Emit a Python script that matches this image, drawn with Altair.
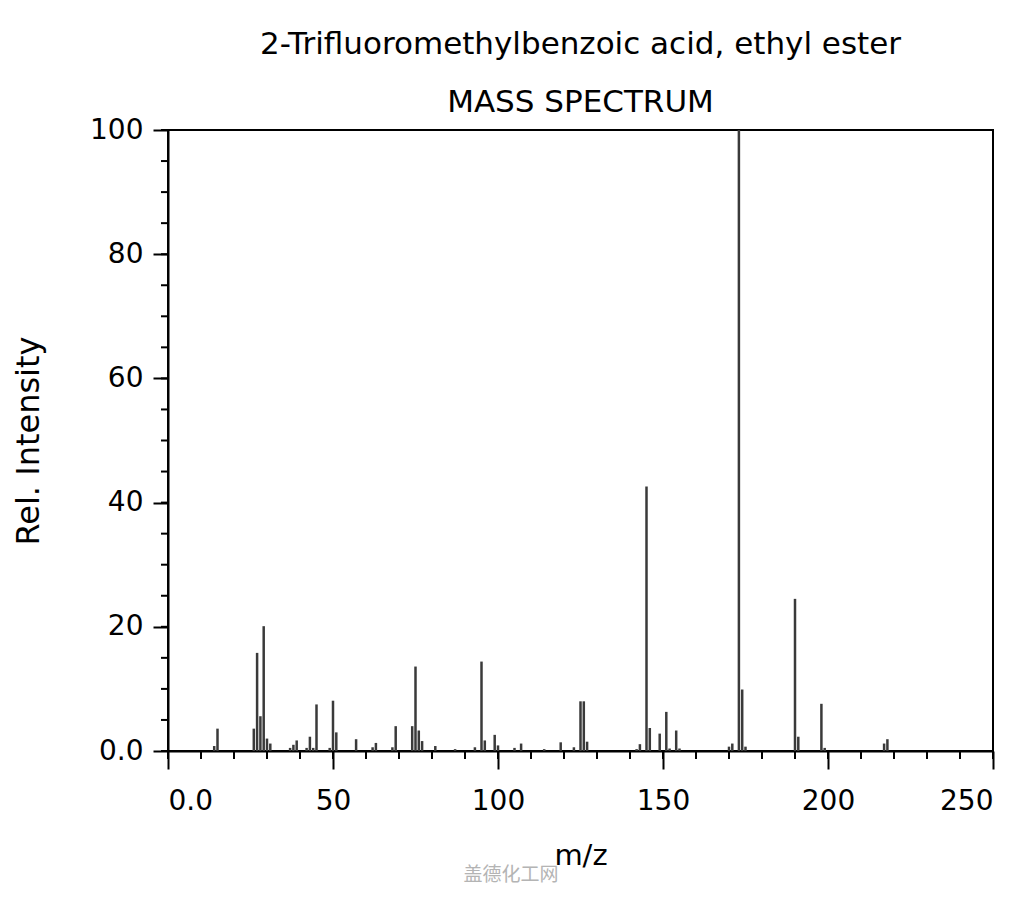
import altair as alt
import pandas as pd

# Peak list (m/z, relative intensity)
mz = [14, 15, 26, 27, 28, 29, 30, 31, 37, 38, 39, 42, 43, 44, 45, 49, 50, 51,
      57, 62, 63, 68, 69, 74, 75, 76, 77, 81, 87, 93, 95, 96, 99, 100, 105,
      107, 114, 119, 123, 125, 126, 127, 142, 143, 145, 146, 149, 151, 152,
      154, 155, 170, 171, 173, 174, 175, 190, 191, 198, 199, 217, 218]
intensity = [0.8, 3.6, 3.6, 15.8, 5.6, 20.1, 2.0, 1.2, 0.5, 1.0, 1.7, 0.5,
             2.3, 0.5, 7.5, 0.5, 8.1, 3.0, 1.9, 0.6, 1.3, 0.6, 4.0, 4.0,
             13.6, 3.3, 1.6, 0.8, 0.3, 0.6, 14.4, 1.7, 2.6, 0.9, 0.5, 1.2,
             0.3, 1.4, 0.6, 8.0, 8.0, 1.5, 0.3, 1.1, 42.6, 3.7, 2.8, 6.3,
             0.4, 3.3, 0.4, 0.7, 1.2, 100.0, 9.9, 0.7, 24.5, 2.3, 7.6, 0.5,
             1.2, 1.9]

x_major = [0, 50, 100, 150, 200, 250]
x_minor = list(range(0, 251, 10))
y_major = [0, 20, 40, 60, 80, 100]
y_minor = list(range(0, 101, 5))

title_lines = ["2-Trifluoromethylbenzoic acid, ethyl ester", "MASS SPECTRUM"]
watermark = "盖德化工网"

W, H = 825, 621
FONT = "DejaVu Sans"

peaks = pd.DataFrame({"mz": mz, "intensity": intensity})
xmin_df = pd.DataFrame({"t": x_minor})
ymin_df = pd.DataFrame({"t": y_minor})

xscale = alt.Scale(domain=[0, 250], nice=False, zero=False)
yscale = alt.Scale(domain=[0, 100], nice=False)

label_expr = "datum.value == 0 ? '0.0' : datum.label"

bars = alt.Chart(peaks).mark_rule(color="#3a3a3a", strokeWidth=2.5).encode(
    x=alt.X("mz:Q", scale=xscale,
            axis=alt.Axis(values=x_major, title="m/z", labelExpr=label_expr,
                          tickSize=18, labelPadding=18, titleY=104,
                          titleBaseline="middle", titleFontSize=29,
                          labelFontSize=28, grid=False)),
    y=alt.Y("intensity:Q", scale=yscale,
            axis=alt.Axis(values=y_major, title="Rel. Intensity",
                          labelExpr=label_expr, tickSize=15, labelPadding=10,
                          titleX=-140, titleY=H / 2, titleAngle=270,
                          titleAlign="center", titleBaseline="middle",
                          titleFontSize=32, labelFontSize=28, grid=False)),
    y2=alt.datum(0),
)

xminor = alt.Chart(xmin_df).mark_rule(color="black", strokeWidth=2).encode(
    x=alt.X("t:Q", scale=xscale),
    y=alt.value(H),
    y2=alt.value(H + 8),
)

yminor = alt.Chart(ymin_df).mark_rule(color="black", strokeWidth=2).encode(
    y=alt.Y("t:Q", scale=yscale),
    x=alt.value(-7),
    x2=alt.value(0),
)

wm = alt.Chart(pd.DataFrame({"w": [watermark]})).mark_text(
    font="Noto Sans CJK SC", fontSize=19, color="#b4b4b4"
).encode(
    text="w:N",
    x=alt.value(343),
    y=alt.value(745),
)

chart = alt.layer(bars, xminor, yminor, wm).properties(
    width=W,
    height=H,
    background="white",
    title=alt.TitleParams(text=title_lines, fontSize=31, font=FONT,
                          fontWeight="normal", color="black", lineHeight=58,
                          offset=-3, anchor="middle"),
    autosize=alt.AutoSizeParams(type="none"),
    padding={"left": 160, "top": 122, "right": 23, "bottom": 140},
).configure_view(
    stroke="black", strokeWidth=2
).configure_axis(
    domainColor="black", domainWidth=2, tickColor="black", tickWidth=2,
    labelColor="black", titleColor="black", labelFont=FONT, titleFont=FONT,
    titleFontWeight="normal"
)

chart.save("out.html", embed_options={"renderer": "svg", "actions": False})
